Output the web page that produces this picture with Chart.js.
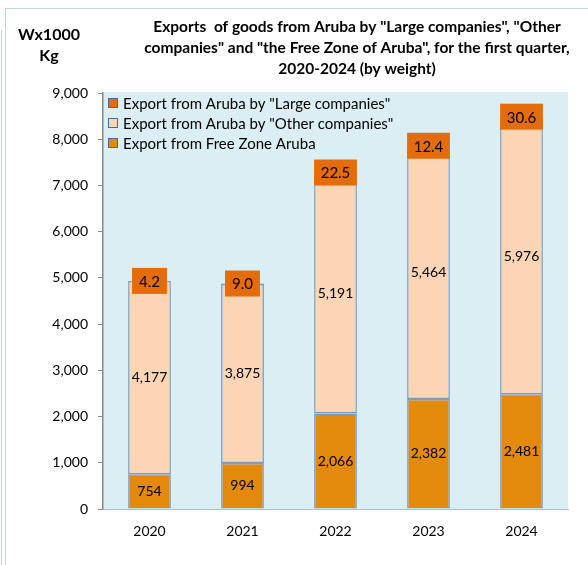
<!DOCTYPE html>
<html>
<head>
<meta charset="utf-8">
<script src="https://cdn.jsdelivr.net/npm/chart.js@4/dist/chart.umd.min.js"></script>
<style>
  body { margin: 0; background: #fff; }
  #wrap { position: relative; width: 588px; height: 565px; }
  #frame { position: absolute; left: 5px; top: 8px; right: 0; bottom: 0;
           border-left: 1px solid #c5d5e8; border-top: 1px solid #c5d5e8; }
  #edge { position: absolute; left: 1px; top: 30px; bottom: 0; border-left: 1px solid #c5d5e8; }
  canvas { position: absolute; left: 0; top: 0; }
</style>
</head>
<body>
<div id="wrap">
  <div id="edge"></div>
  <div id="frame"></div>
  <canvas id="barChart" width="588" height="565"></canvas>
</div>
<script>
var years = ["2020", "2021", "2022", "2023", "2024"];
var freeZone = [754, 994, 2066, 2382, 2481];
var otherCompanies = [4177, 3875, 5191, 5464, 5976];
var largeCompanies = [4.2, 9.0, 22.5, 12.4, 30.6];
var seriesNames = [
    'Export from Aruba by "Large companies"',
    'Export from Aruba by "Other companies"',
    'Export from Free Zone Aruba'
];
var titleLines = [
    'Exports  of goods from Aruba by "Large companies", "Other',
    'companies" and "the Free Zone of Aruba", for the first quarter,',
    '2020-2024 (by weight)'
];
var unitLines = ["Wx1000", "Kg"];

var FONT = "Lato, 'Liberation Sans', sans-serif";
var colFree = "#e3890b";
var colOther = "#fcd5b5";
var colLarge = "#e46c0a";
var colEdge = "rgba(90,130,180,0.75)";

var decorPlugin = {
    id: 'decor',
    beforeDraw: function (chart) {
        var ctx = chart.ctx, a = chart.chartArea;
        ctx.save();
        ctx.fillStyle = "#dbeef4";
        ctx.fillRect(a.left, a.top - 1, a.right - a.left, a.bottom - a.top + 1);
        ctx.restore();
    },
    afterDraw: function (chart) {
        var ctx = chart.ctx;
        ctx.save();
        ctx.fillStyle = "#000";
        ctx.textAlign = "center";
        ctx.textBaseline = "middle";
        ctx.font = "bold 15.5px " + FONT;
        titleLines.forEach(function (t, i) { ctx.fillText(t, 357, 27 + i * 21); });
        ctx.font = "bold 16px " + FONT;
        unitLines.forEach(function (t, i) { ctx.fillText(t, 49, 35 + i * 21); });

        // legend inside the plot
        var items = [
            { name: seriesNames[0], color: colLarge },
            { name: seriesNames[1], color: colOther },
            { name: seriesNames[2], color: colFree }
        ];
        ctx.textAlign = "left";
        ctx.font = "15px " + FONT;
        items.forEach(function (it, i) {
            var y = 103 + i * 20;
            ctx.fillStyle = it.color;
            ctx.fillRect(108, y - 5, 10, 10);
            ctx.strokeStyle = "#4a6a90";
            ctx.lineWidth = 1;
            ctx.strokeRect(108.5, y - 4.5, 9, 9);
            ctx.fillStyle = "#000";
            ctx.fillText(it.name, 123, y + 1);
        });
        ctx.restore();
    },
    afterDatasetsDraw: function (chart) {
        var ctx = chart.ctx;
        ctx.save();
        ctx.textAlign = "center";
        ctx.textBaseline = "middle";
        ctx.font = "14px " + FONT;
        ctx.fillStyle = "#000";
        [0, 1].forEach(function (di) {
            var meta = chart.getDatasetMeta(di);
            meta.data.forEach(function (bar, i) {
                var v = chart.data.datasets[di].data[i];
                ctx.fillText(v.toLocaleString('en-US'), bar.x, (bar.y + bar.base) / 2);
            });
        });
        var top = chart.getDatasetMeta(2);
        ctx.font = "15px " + FONT;
        top.data.forEach(function (bar, i) {
            var txt = largeCompanies[i].toFixed(1);
            var w = Math.min(bar.width, ctx.measureText(txt).width + 14);
            var h = 26;
            ctx.fillStyle = colLarge;
            ctx.fillRect(bar.x - w / 2, bar.y - h / 2, w, h);
            ctx.fillStyle = "#000";
            ctx.fillText(txt, bar.x, bar.y + 1);
        });
        ctx.restore();
    }
};

var ctxB = document.getElementById("barChart").getContext('2d');
var myChart = new Chart(ctxB, {
    type: 'bar',
    data: {
        labels: years,
        datasets: [
            { label: seriesNames[2], data: freeZone, backgroundColor: colFree },
            { label: seriesNames[1], data: otherCompanies, backgroundColor: colOther },
            { label: seriesNames[0], data: largeCompanies, backgroundColor: colLarge }
        ]
    },
    options: {
        responsive: false,
        animation: false,
        layout: { padding: { left: 0, right: 20, top: 93, bottom: 25 } },
        datasets: {
            bar: {
                barPercentage: 0.46,
                categoryPercentage: 1,
                borderColor: colEdge,
                borderWidth: 1.5,
                borderSkipped: false
            }
        },
        plugins: {
            legend: { display: false },
            tooltip: { enabled: false }
        },
        scales: {
            x: {
                stacked: true,
                afterFit: function (s) { s.height = 31; },
                grid: { display: false, drawTicks: false },
                border: { color: "#a9c1d8", width: 1 },
                ticks: { color: "#000", font: { family: FONT, size: 14 }, padding: 14 }
            },
            y: {
                stacked: true,
                min: 0,
                max: 9000,
                afterFit: function (s) { s.width = 103; },
                grid: { drawOnChartArea: false, tickLength: 5, color: "#888" },
                border: { color: "#888", width: 1.5 },
                ticks: {
                    stepSize: 1000,
                    padding: 10,
                    color: "#000",
                    font: { family: FONT, size: 14 },
                    callback: function (v) { return v.toLocaleString('en-US'); }
                }
            }
        }
    },
    plugins: [decorPlugin]
});
</script>
</body>
</html>
